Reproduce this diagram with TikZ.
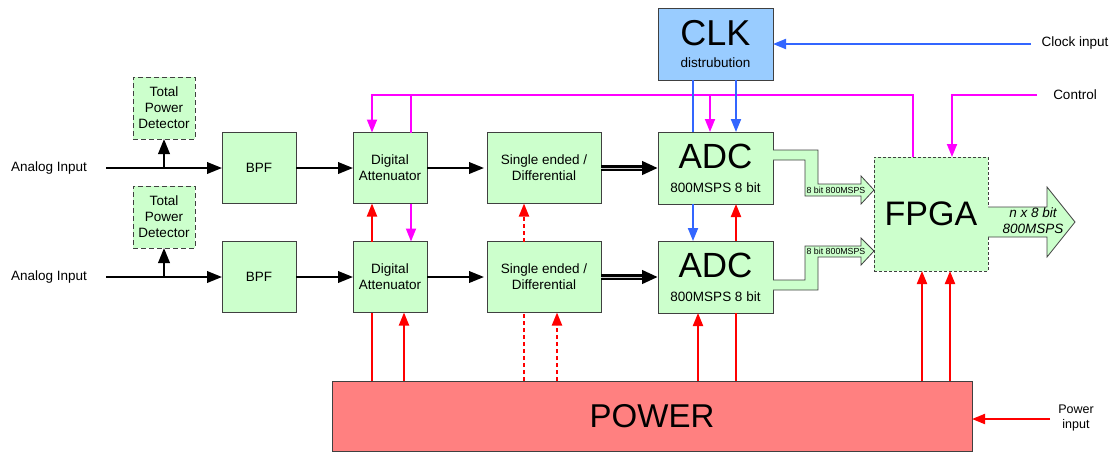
\documentclass[tikz,border=0pt]{standalone}
\usepackage{fontspec}
\setmainfont{Liberation Sans}
\usetikzlibrary{calc, positioning}
\usetikzlibrary{arrows.meta}

\definecolor{boxgreen}{HTML}{CCFFCC}
\definecolor{clkblue}{HTML}{99CCFF}
\definecolor{powerred}{HTML}{FF8080}
\definecolor{ctrlmag}{HTML}{FF00FF}
\definecolor{clkline}{HTML}{3366FF}
\definecolor{edge}{HTML}{404040}

\begin{document}
\begin{tikzpicture}[
    x=1pt, y=-1pt,
    txt/.style={font=\fontsize{13.5}{16}\selectfont, align=center},
    block/.style={draw=edge, fill=boxgreen, line width=0.9pt,
        inner sep=0pt, outer sep=0pt, txt},
    tip/.style={-{Triangle[length=13pt,width=10pt]}},
    sig/.style={line width=2.2pt, -{Triangle[length=15pt,width=11.5pt]}},
    ctrl/.style={ctrlmag, line width=1.8pt},
    clkw/.style={clkline, line width=2pt},
    pwr/.style={red, line width=2pt},
    pwrdash/.style={dash pattern=on 4pt off 3pt},
    bus/.style={draw=edge, fill=boxgreen, line width=0.8pt}
]
\useasboundingbox (0,0) rectangle (1109,451);

% Two input channels
\foreach \r/\y in {1/168, 2/277} {
    \node[txt] (ain\r) at (49,\y) {Analog Input};
    \coordinate (in\r) at (106,\y);
    \node[block, dash pattern=on 5pt off 3pt, minimum width=62pt, minimum height=62pt]
        (tpd\r) at (164,\y-60) {Total\\Power\\Detector};
    \node[block, minimum width=74pt, minimum height=71pt] (bpf\r) at (259,\y) {BPF};
    \node[block, minimum width=74pt, minimum height=71pt] (da\r) at (390,\y) {Digital\\Attenuator};
    \node[block, minimum width=114pt, minimum height=71pt] (se\r) at (544,\y) {Single ended /\\Differential};
    \node[block, minimum width=115pt, minimum height=72pt] (adc\r) at (715.5,\y)
        {{\fontsize{35}{35}\selectfont ADC}\\[8pt]800MSPS 8 bit};

    \draw[sig] (in\r) -- (bpf\r);
    \draw[sig] (tpd\r.south |- in\r) -- (tpd\r.south);
    \draw[sig] (bpf\r) -- (da\r);
    \draw[sig, shorten >=3pt] (da\r) -- (se\r);
    \draw[line width=5.4pt, -{Triangle[length=16pt,width=13pt]}] (se\r) -- (adc\r);
    \draw[white!60!gray, line width=1pt, shorten >=16pt] (se\r) -- (adc\r);
}

\node[block, fill=clkblue, minimum width=115pt, minimum height=72pt] (clk) at (715.5,44)
    {{\fontsize{36}{36}\selectfont CLK}\\[6pt]distrubution};
\node[block, dash pattern=on 3pt off 2pt, minimum width=114pt, minimum height=114pt,
    font=\fontsize{34}{34}\selectfont] (fpga) at (931,214) {FPGA};
\node[block, fill=powerred, minimum width=640pt, minimum height=70pt,
    font=\fontsize{33}{33}\selectfont] (power) at (652,416) {POWER};

\node[txt] (clkin) at (1075,43) {Clock input};
\node[txt] (ctlin) at (1075,95) {Control};
\node[txt, font=\fontsize{12.5}{15}\selectfont] (pwrin) at (1076,418) {Power\\input};

% ADC -> FPGA buses
\draw[bus] (773,150) -- (818,150) -- (818,184) -- (861,184) -- (861,176) -- (874,190)
    -- (861,204) -- (861,196) -- (805,196) -- (805,160) -- (773,160);
\draw[bus] (773,280) -- (805,280) -- (805,246) -- (861,246) -- (861,238) -- (874,251)
    -- (861,265) -- (861,257) -- (818,257) -- (818,290) -- (773,290);
\node[font=\fontsize{8.8}{9}\selectfont] (bus1) at (836,190) {8 bit 800MSPS};
\node[font=\fontsize{8.8}{9}\selectfont] (bus2) at (836,251) {8 bit 800MSPS};

% FPGA output
\draw[bus] (988,207) -- (1047,207) -- (1047,187) -- (1075,222) -- (1047,257)
    -- (1047,237) -- (988,237);
\node[txt, font=\fontsize{13.5}{16}\selectfont\itshape] (fout) at (1033,221) {n x 8 bit\\800MSPS};

% Control lines
\coordinate (ctlL) at (372,95);
\coordinate (ctlA) at (411,95);
\coordinate (ctlB) at (710,95);
\coordinate (ctlR) at (913,95);
\coordinate (ctlC) at (952,95);
\coordinate (ctlsrc) at (1037,95);
\draw[ctrl, tip] (fpga.north -| ctlR) -- (ctlR) -- (ctlL) -- (ctlL |- da1.north);
\draw[ctrl] (ctlA) -- (ctlA |- da1.north);
\draw[ctrl, tip] (da1.south -| ctlA) -- (da2.north -| ctlA);
\draw[ctrl, tip] (ctlB) -- (ctlB |- adc1.north);
\draw[ctrl, tip] (ctlsrc) -- (ctlC) -- (ctlC |- fpga.north);

% Clock lines
\coordinate (clksrc) at (1031,44);
\draw[clkw, tip] (clksrc) -- (clk);
\draw[clkw] ([xshift=-22.5pt]clk.south) -- ([xshift=-22.5pt]adc1.north);
\draw[clkw, tip] ([xshift=-22.5pt]adc1.south) -- ([xshift=-22.5pt]adc2.north);
\draw[clkw, tip] ([xshift=20.5pt]clk.south) -- ([xshift=20.5pt]adc1.north);

% Power lines
\foreach \b/\dx/\dash in {da/-18/solid, se/-20/pwrdash, adc/20.5/solid} {
    \coordinate (p\b) at ([xshift=\dx pt]\b2.south);
    \draw[pwr, \dash] (p\b |- power.north) -- (p\b);
    \draw[pwr, \dash, tip] ([xshift=\dx pt]\b2.north) -- ([xshift=\dx pt]\b1.south);
}
\foreach \b/\dx/\dash in {da2/14/solid, se2/13/pwrdash, adc2/-17.5/solid, fpga/-9/solid, fpga/19/solid} {
    \coordinate (q) at ([xshift=\dx pt]\b.south);
    \draw[pwr, \dash, tip] (q |- power.north) -- (q);
}
\coordinate (pwrsrc) at (1050,419);
\draw[pwr, tip] (pwrsrc) -- (pwrsrc -| power.east);
\end{tikzpicture}
\end{document}
